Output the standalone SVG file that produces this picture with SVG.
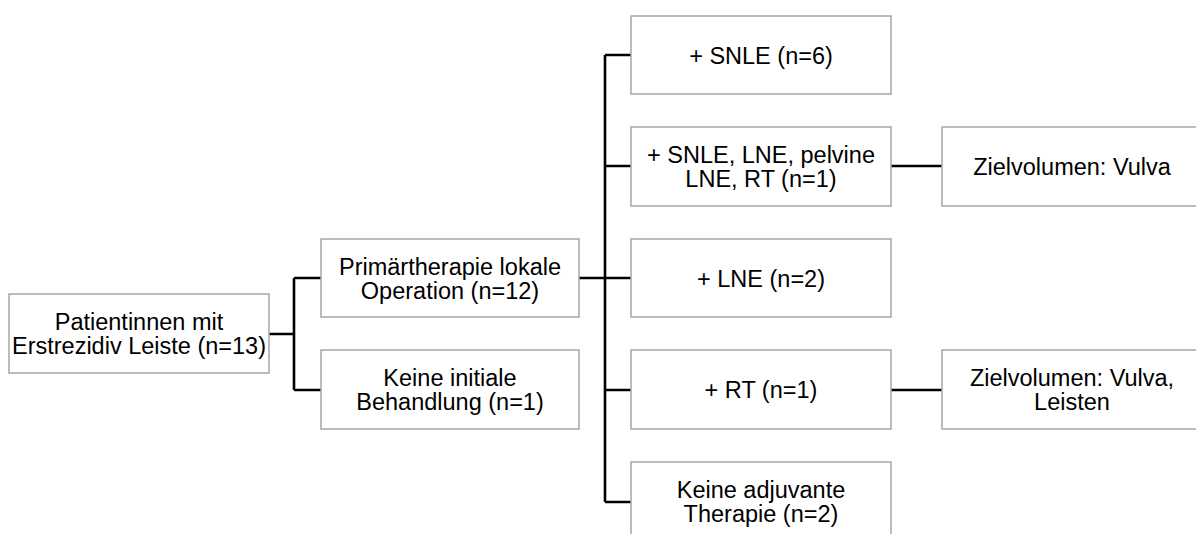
<svg xmlns="http://www.w3.org/2000/svg" width="1196" height="534" viewBox="0 0 1196 534">
<style>
.box{fill:#fff;stroke:#a6a6a6;stroke-width:1.5}
.t{font-family:"Liberation Sans",Arial,sans-serif;font-size:23.5px;fill:#000;text-anchor:middle}
.c{fill:none;stroke:#000;stroke-width:2.6}
</style>
<rect width="1196" height="534" fill="#fff"/>
<g id="connectors">
<path class="c" d="M269,334H294M294,278V390M294,278H321M294,390H321"/>
<path class="c" d="M579,278H605M605,55V502M605,55H631M605,166H631M605,278H631M605,390H631M605,502H631"/>
<path class="c" d="M891,166H942M891,390H942"/>
</g>
<g id="root"><rect class="box" x="9" y="294" width="260" height="79"/><text class="t" x="139" y="330">Patientinnen mit</text><text class="t" x="139" y="354">Erstrezidiv Leiste (n=13)</text></g>
<g id="primaer"><rect class="box" x="321" y="239" width="258" height="78"/><text class="t" x="450" y="275">Primärtherapie lokale</text><text class="t" x="450" y="299">Operation (n=12)</text></g>
<g id="keine-initiale"><rect class="box" x="321" y="350" width="258" height="79"/><text class="t" x="450" y="386">Keine initiale</text><text class="t" x="450" y="410">Behandlung (n=1)</text></g>
<g id="snle"><rect class="box" x="631" y="16" width="260" height="78"/><text class="t" x="761" y="63.5">+ SNLE (n=6)</text></g>
<g id="snle-lne"><rect class="box" x="631" y="127" width="260" height="79"/><text class="t" x="761" y="163">+ SNLE, LNE, pelvine</text><text class="t" x="761" y="187">LNE, RT (n=1)</text></g>
<g id="lne"><rect class="box" x="631" y="239" width="260" height="78"/><text class="t" x="761" y="286.5">+ LNE (n=2)</text></g>
<g id="rt"><rect class="box" x="631" y="350" width="260" height="79"/><text class="t" x="761" y="398">+ RT (n=1)</text></g>
<g id="keine-adjuvante"><rect class="box" x="631" y="462" width="260" height="80"/><text class="t" x="761" y="498">Keine adjuvante</text><text class="t" x="761" y="522">Therapie (n=2)</text></g>
<g id="ziel-vulva"><rect class="box" x="942" y="127" width="260" height="79"/><text class="t" x="1072" y="175">Zielvolumen: Vulva</text></g>
<g id="ziel-vulva-leisten"><rect class="box" x="942" y="350" width="260" height="79"/><text class="t" x="1072" y="386">Zielvolumen: Vulva,</text><text class="t" x="1072" y="410">Leisten</text></g>
</svg>
